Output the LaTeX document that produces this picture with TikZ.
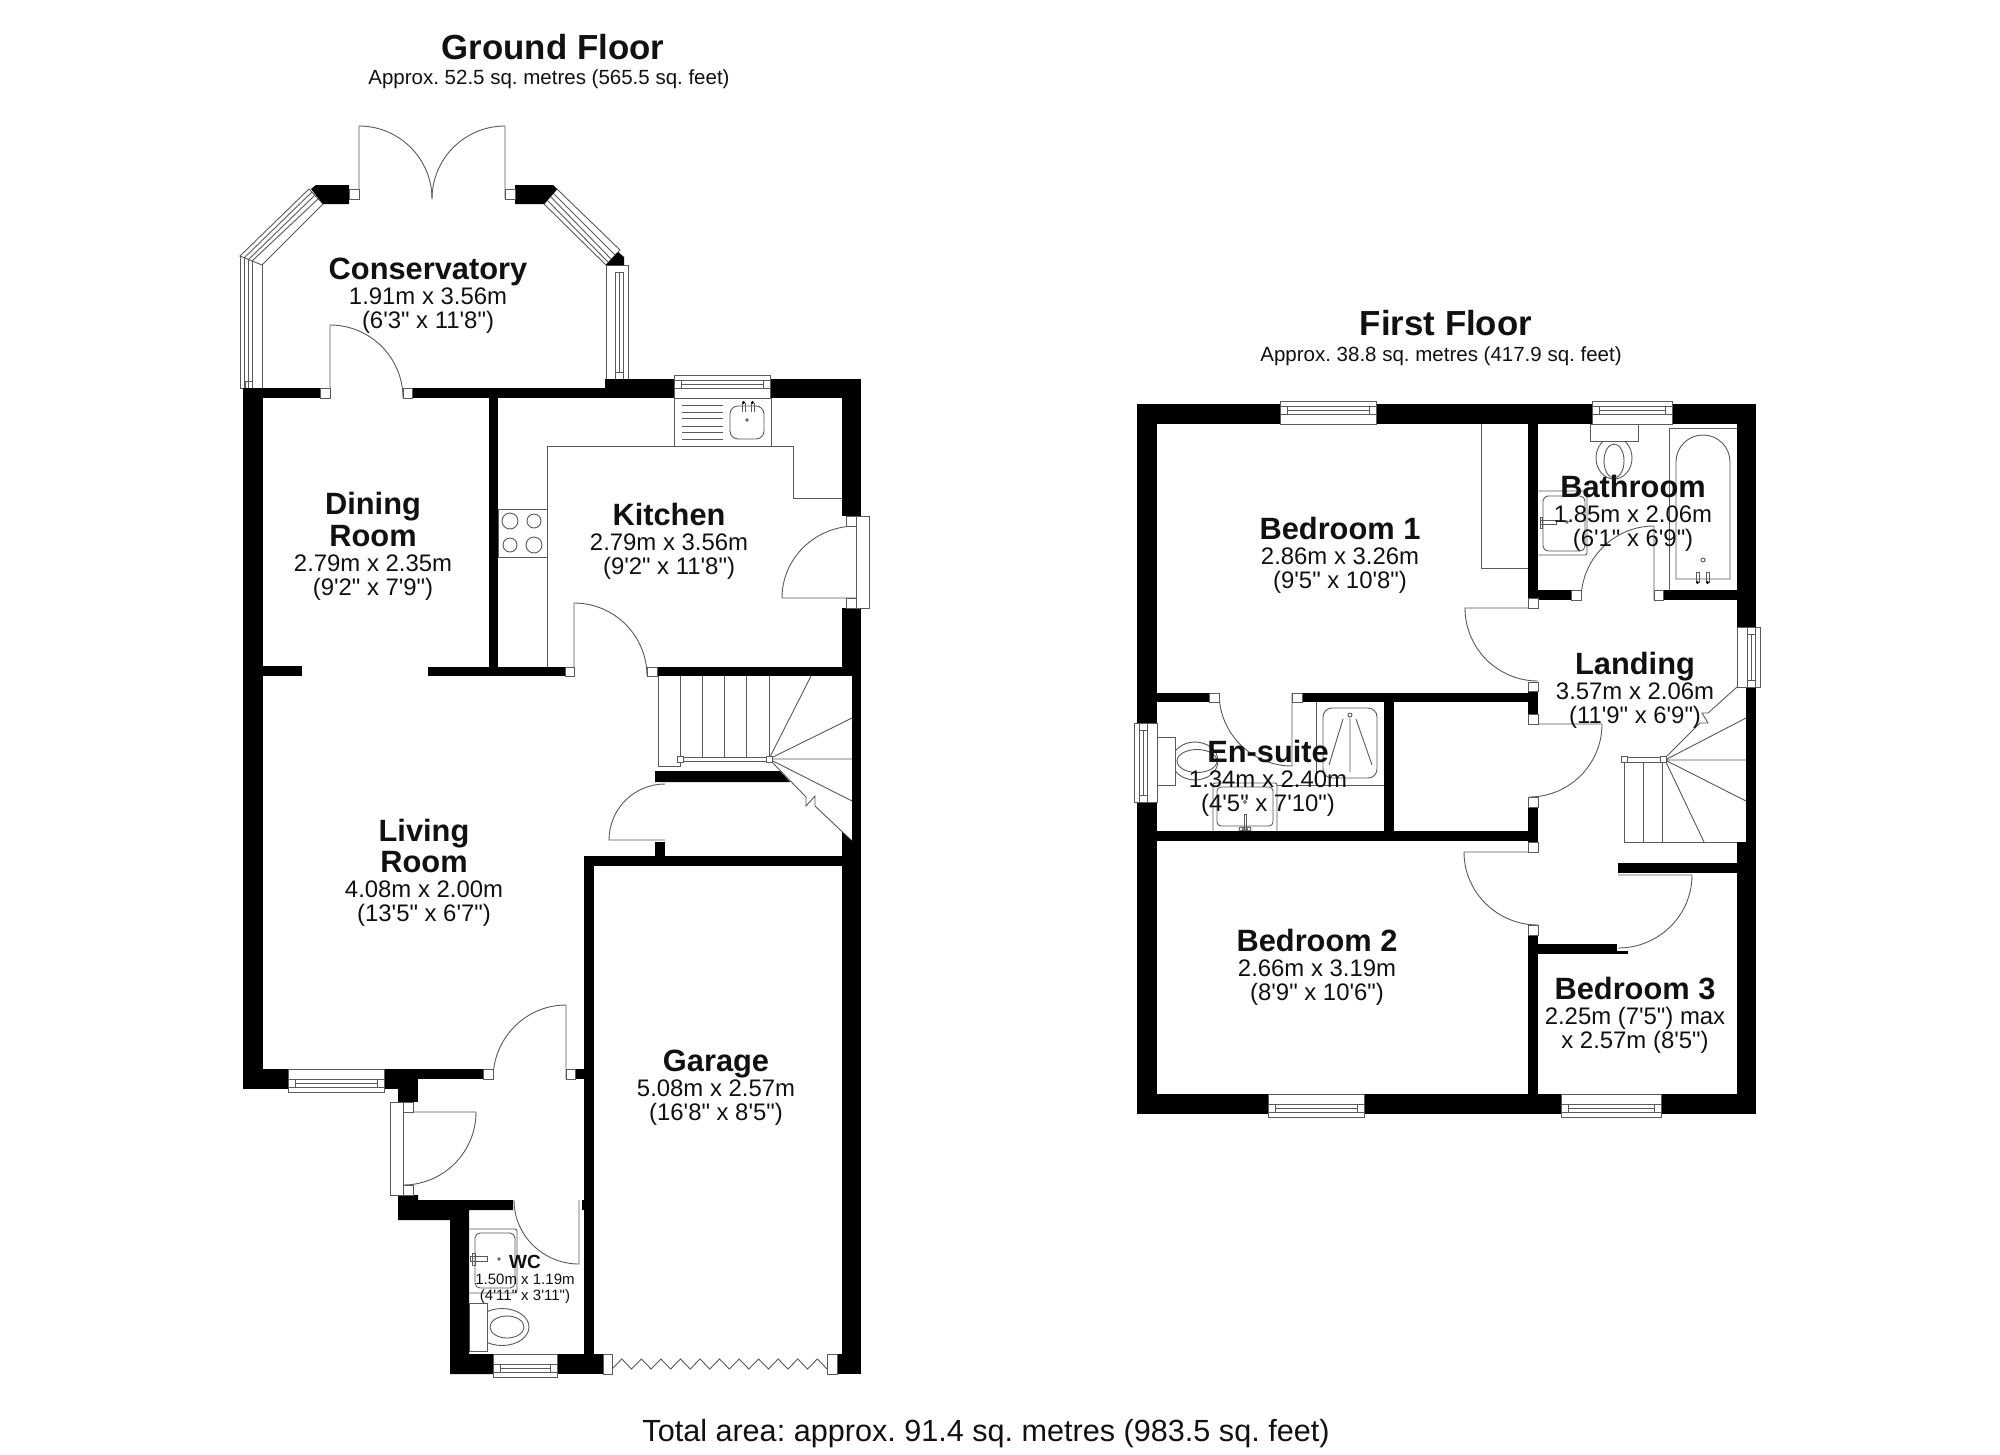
\documentclass[tikz,border=0pt]{standalone}
\usepackage{fontspec}
\newfontfamily\planfont{Liberation Sans}
\definecolor{fineline}{HTML}{5A5A5A}
\definecolor{inktext}{HTML}{111111}
\tikzset{
  fine/.style={draw=fineline,line width=0.9pt,line join=miter},
  fixture/.style={fine,fill=white},
  room/.style={anchor=north,inner sep=0pt,align=center,text=inktext,font=\frenchspacing\planfont\fontsize{23.9}{24.5}\selectfont},
  smallroom/.style={anchor=north,inner sep=0pt,align=center,text=inktext,font=\frenchspacing\planfont\fontsize{15}{16}\selectfont},
  title/.style={inner sep=0pt,text=inktext,font=\planfont\bfseries\fontsize{34.8}{36}\selectfont},
  subtitle/.style={inner sep=0pt,text=inktext,font=\frenchspacing\planfont\fontsize{20.5}{22}\selectfont},
  total/.style={inner sep=0pt,text=inktext,font=\frenchspacing\planfont\fontsize{30.6}{32}\selectfont}
}
\newcommand\rn[1]{{\bfseries\fontsize{30.8}{24.5}\selectfont #1}}
\newcommand\srn[1]{{\bfseries\fontsize{19}{16}\selectfont #1}}
\newcommand\wl[4]{\fill[black] (#1,#2) rectangle (#3,#4);}
\newcommand\jb[4]{\draw[fixture] (#1,#2) rectangle (#3,#4);}
% hinge x,y ; leaf end x,y ; arc end x,y
\newcommand\plandoor[6]{%
  \pgfmathsetmacro\cx{#3+#5-#1}\pgfmathsetmacro\cy{#4+#6-#2}%
  \pgfmathsetmacro\ax{#3+.5523*(\cx-#3)}\pgfmathsetmacro\ay{#4+.5523*(\cy-#4)}%
  \pgfmathsetmacro\bx{#5+.5523*(\cx-#5)}\pgfmathsetmacro\by{#6+.5523*(\cy-#6)}%
  \draw[fine] (#1,#2) -- (#3,#4) .. controls (\ax,\ay) and (\bx,\by) .. (#5,#6);}
% x1 x2 innery dir(+1 outward is down)
\newcommand\hwin[4]{%
  \pgfmathsetmacro\oy{#3+#4*23}\pgfmathsetmacro\la{\oy-#4*5}\pgfmathsetmacro\lb{\oy-#4*13}\pgfmathsetmacro\lm{\oy-#4*9}%
  \pgfmathsetmacro\xa{#1+7}\pgfmathsetmacro\xb{#2-7}%
  \draw[fixture] (#1,#3) rectangle (#2,\oy);
  \draw[fine] (#1,\la) -- (#2,\la) (#1,\lb) -- (#2,\lb) (\xa,\la) -- (\xa,\lb) (\xb,\la) -- (\xb,\lb) (\xa,\lm) -- (\xb,\lm);}
\newcommand\vwin[4]{%
  \pgfmathsetmacro\ox{#3+#4*23}\pgfmathsetmacro\la{\ox-#4*5}\pgfmathsetmacro\lb{\ox-#4*13}\pgfmathsetmacro\lm{\ox-#4*9}%
  \pgfmathsetmacro\ya{#1+7}\pgfmathsetmacro\yb{#2-7}%
  \draw[fixture] (#3,#1) rectangle (\ox,#2);
  \draw[fine] (\la,#1) -- (\la,#2) (\lb,#1) -- (\lb,#2) (\la,\ya) -- (\lb,\ya) (\la,\yb) -- (\lb,\yb) (\lm,\ya) -- (\lm,\yb);}
\begin{document}
\begin{tikzpicture}[x=1pt,y=-1pt]
\useasboundingbox (0,0) rectangle (2000,1454);
\fill[white] (0,0) rectangle (2000,1454);

% ---------- GROUND FLOOR fittings ----------
% kitchen worktop
\draw[fine] (547,667) -- (547,446) -- (793,446) -- (793,498) -- (842,498);
\draw[fine] (674,398) rectangle (771,446);
\foreach \yy in {405,412,418,426,432,439} \draw[fine] (682,\yy) -- (723,\yy);
\draw[fine,rounded corners=8pt] (730,406) rectangle (764,439);
\draw[fine] (742,403) -- (742,412) (745,403) -- (745,412) (751,403) -- (751,412) (754,403) -- (754,412);
\fill[black] (743.5,402.5) circle (1.6) (752.5,402.5) circle (1.6);
\draw[fine] (747,420) circle (1.2);
% hob
\draw[fine] (498,509) rectangle (547,557);
\draw[fine] (510,521) circle (8) (534,521) circle (7) (510,545) circle (7) (534,545) circle (8);

% stairs ground
\draw[fine] (658,676) -- (658,766) -- (680,766) -- (680,759);
\foreach \xx in {680,702,724,746,769} \draw[fine] (\xx,676) -- (\xx,757);
\draw[fine] (680,757) rectangle (769,761);
\draw[fine] (769,759) -- (811,676) (769,759) -- (852,718) (769,759) -- (852,759) (769,759) -- (852,801);
\draw[fine] (771,761) -- (806,797) -- (806,806) -- (815,796) -- (815,806) -- (852,841);
\jb{677}{756}{683}{762}
\jb{766}{756}{772}{762}

% WC
\draw[fine,rounded corners=2pt] (469,1229) -- (517,1229) -- (517,1293) -- (469,1293);
\draw[fine,rounded corners=5pt] (475,1233) rectangle (515,1288);
\draw[fine] (470,1256) -- (487,1256) -- (487,1261) -- (470,1261) -- cycle;
\draw[fine] (472,1253) rectangle (475,1265);
\draw[fine] (499,1259) circle (1.2);
\draw[fine] (502,1327) ellipse (27 and 18.5);
\draw[fine] (507,1327) ellipse (17 and 11);
\draw[fixture] (469,1303) rectangle (487,1351);

% ---------- FIRST FLOOR fittings ----------
% wardrobe
\draw[fine] (1481,424) -- (1481,568) -- (1528,568);
% bathroom
\draw[fine] (1614,458) ellipse (18 and 21);
\draw[fine] (1614,461) ellipse (10 and 17);
\draw[fixture] (1590,424) rectangle (1638,441);
\draw[fine,rounded corners=2pt] (1538,491) -- (1587,491) -- (1587,555) -- (1538,555);
\draw[fine,rounded corners=5pt] (1543,496) rectangle (1585,551);
\draw[fine] (1540,520) -- (1556,520) -- (1556,524) -- (1540,524) -- cycle;
\draw[fine] (1540,517) rectangle (1542,528);
\draw[fine] (1567,522) circle (1.2);
\draw[fine] (1669,590) -- (1669,428) -- (1737,428);
\draw[fine] (1676,579) -- (1676,462) .. controls (1676,447) and (1688,435) .. (1703,435) .. controls (1718,435) and (1730,447) .. (1730,462) -- (1730,579) -- cycle;
\draw[fine] (1696,572) rectangle (1699,582) (1706,572) rectangle (1709,582);
\fill[black] (1697.5,582.5) circle (1.6) (1707.5,582.5) circle (1.6);
\draw[fine] (1703,560) circle (2);
% en-suite
\draw[fine] (1316,702) -- (1316,785) (1277,785) -- (1384,785);
\draw[fine,rounded corners=9pt] (1323,708) rectangle (1377,778);
\draw[fine] (1350,715) circle (2);
\draw[fine] (1350,718) -- (1350,772) (1343,719) -- (1329,765) (1356,719) -- (1372,765);
\draw[fine] (1195,761) ellipse (23 and 19);
\draw[fine] (1197,761) ellipse (20 and 11.5);
\draw[fixture] (1157,737) rectangle (1175,785);
\draw[fine,rounded corners=2pt] (1213,831) -- (1213,783) -- (1277,783) -- (1277,831);
\draw[fine,rounded corners=4pt] (1217,787) rectangle (1273,826);
\draw[fine] (1245,802) circle (1.5);
\draw[fine] (1244,814) rectangle (1246,829);
\draw[fine] (1241,829) circle (2) (1249,829) circle (2) (1245,829) circle (2);
% stairs first
\draw[fine] (1624,842) -- (1737,842) (1624,762) -- (1624,842) (1643,762) -- (1643,842) (1662,762) -- (1662,842);
\draw[fine] (1624,757) rectangle (1664,762);
\draw[fine] (1665,760) -- (1704,842) (1665,760) -- (1746,801) (1665,760) -- (1746,760) (1665,760) -- (1746,718);
\draw[fine] (1666,757) -- (1700,723) -- (1708,723) -- (1702,713) -- (1708,713) -- (1737,687);
\jb{1621}{756}{1627}{762}
\jb{1660}{756}{1666}{762}

% ---------- doors ----------
\plandoor{359}{199}{359}{126}{432}{199}
\plandoor{505}{199}{505}{126}{432}{199}
\plandoor{330}{398}{330}{325}{403}{398}
\plandoor{856}{598}{782}{598}{856}{526}
\plandoor{574}{676}{574}{603}{647}{676}
\plandoor{665}{840}{609}{840}{665}{784}
\plandoor{566}{1079}{566}{1005}{493}{1079}
\plandoor{403}{1112}{476}{1112}{403}{1185}
\plandoor{579}{1200}{579}{1264}{514}{1200}
\plandoor{1654}{600}{1654}{526}{1581}{600}
\plandoor{1538}{608}{1465}{608}{1538}{681}
\plandoor{1292}{693}{1292}{766}{1219}{693}
\plandoor{1529}{724}{1602}{724}{1529}{797}
\plandoor{1538}{852}{1464}{852}{1538}{925}
\plandoor{1618}{875}{1692}{875}{1618}{948}

% ---------- conservatory windows ----------
\draw[fixture] (309,189) -- (323,204) -- (262,265) -- (240,256) -- cycle;
\draw[fine] (312,192) -- (244,258) (315,195) -- (248,260) (318,199) -- (252,261);
\draw[fine] (240,256) -- (240,388) -- (262,388) -- (262,265);
\draw[fine] (244,258) -- (244,388) (248,260) -- (248,388) (252,261) -- (252,388);
\draw[fine] (245,381) rectangle (252,388);
\draw[fixture] (557,189) -- (544,204) -- (606,265) -- (620,250) -- cycle;
\draw[fine] (553,193) -- (615,255) (550,196) -- (611,259) (547,200) -- (608,262);
\draw[fine] (606,265) -- (606,379) (628,265) -- (628,379) (606,265) -- (628,265);
\draw[fine] (615,272) rectangle (623,379) (619,272) -- (619,372) (615,272) -- (623,272) (615,372) -- (623,372);

% ---------- GROUND walls ----------
\fill[black] (316,185) -- (349,185) -- (349,204) -- (323,204) -- (311,189) -- cycle;
\fill[black] (515,185) -- (553,185) -- (557,189) -- (544,204) -- (515,204) -- cycle;
\fill[black] (606,265) -- (618,252) -- (624,257) -- (624,265) -- cycle;
\wl{243}{388}{263}{1089}
\wl{243}{1069}{288}{1089}
\wl{384}{1069}{398}{1089}
\wl{398}{1069}{418}{1102}
\wl{418}{1069}{483}{1079}
\wl{575}{1069}{584}{1079}
\wl{243}{388}{320}{398}
\wl{412}{388}{605}{398}
\wl{605}{379}{674}{398}
\wl{770}{379}{861}{398}
\wl{842}{379}{861}{516}
\wl{842}{608}{861}{676}
\wl{852}{667}{861}{1374}
\fill[black] (842,832) -- (852,841) -- (852,900) -- (842,900) -- cycle;
\wl{842}{856}{861}{1374}
\wl{489}{398}{498}{676}
\wl{263}{666}{302}{676}
\wl{428}{667}{565}{676}
\wl{657}{667}{861}{676}
\fill[black] (655,771) -- (780,771) -- (790,782) -- (655,782) -- cycle;
\wl{655}{842}{665}{856}
\wl{584}{856}{861}{866}
\wl{584}{856}{594}{1374}
\fill[black] (398,1195) -- (418,1195) -- (418,1200) -- (513,1200) -- (513,1210) -- (469,1210) -- (469,1354) -- (493,1354) -- (493,1374) -- (450,1374) -- (450,1220) -- (398,1220) -- cycle;
\wl{582}{1200}{584}{1210}
\wl{557}{1354}{603}{1374}
\wl{837}{1354}{842}{1374}

% jambs & doors frames ground
\jb{349}{189}{359}{199}
\jb{505}{189}{515}{199}
\jb{320}{388}{330}{398}
\jb{403}{388}{412}{398}
\jb{846}{516}{856}{526}
\jb{846}{598}{856}{608}
\jb{856}{516}{869}{608}
\jb{565}{667}{574}{676}
\jb{647}{667}{657}{676}
\jb{483}{1069}{493}{1079}
\jb{566}{1069}{575}{1079}
\jb{390}{1102}{403}{1195}
\jb{403}{1102}{413}{1112}
\jb{403}{1185}{413}{1195}
\jb{603}{1354}{612}{1374}
\jb{827}{1354}{837}{1374}
\draw[fine] (612,1369) \foreach \i in {0,...,10} { -- ({612+\i*19.55+9.8},1359) -- ({612+\i*19.55+19.55},1369) };

% windows ground
\hwin{674}{770}{398}{-1}
\hwin{288}{384}{1069}{1}
\hwin{493}{557}{1354}{1}

% ---------- FIRST walls ----------
\wl{1137}{404}{1280}{424}
\wl{1376}{404}{1592}{424}
\wl{1672}{404}{1756}{424}
\wl{1137}{404}{1157}{723}
\wl{1137}{802}{1157}{1114}
\wl{1737}{404}{1756}{627}
\wl{1746}{687}{1756}{842}
\wl{1737}{842}{1756}{1114}
\wl{1137}{1094}{1268}{1114}
\wl{1364}{1094}{1561}{1114}
\wl{1661}{1094}{1756}{1114}
\wl{1528}{424}{1538}{598}
\wl{1528}{590}{1571}{600}
\wl{1663}{590}{1737}{600}
\wl{1157}{693}{1209}{702}
\wl{1302}{693}{1528}{702}
\wl{1528}{691}{1538}{714}
\wl{1384}{693}{1394}{831}
\wl{1157}{831}{1528}{841}
\wl{1528}{807}{1538}{842}
\wl{1528}{935}{1538}{1114}
\wl{1538}{944}{1617}{954}
\wl{1617}{951}{1628}{954}
\wl{1618}{863}{1737}{873}

\jb{1571}{590}{1581}{600}
\jb{1654}{590}{1663}{600}
\jb{1528}{598}{1538}{608}
\jb{1528}{682}{1538}{691}
\jb{1528}{714}{1538}{724}
\jb{1528}{797}{1538}{807}
\jb{1528}{842}{1538}{852}
\jb{1528}{925}{1538}{935}
\jb{1209}{693}{1219}{702}
\jb{1292}{693}{1302}{702}

\hwin{1280}{1376}{424}{-1}
\hwin{1592}{1672}{424}{-1}
\hwin{1268}{1364}{1094}{1}
\hwin{1561}{1661}{1094}{1}
\vwin{723}{802}{1157}{-1}
\vwin{627}{687}{1737}{1}

% ---------- texts ----------
\node[title] (gf) at (553,47) {Ground Floor};
\node[subtitle] (gfa) at (549,79) {Approx. 52.5 sq. metres (565.5 sq. feet)};
\node[title] (ff) at (1446,323) {First Floor};
\node[subtitle] (ffa) at (1441,356) {Approx. 38.8 sq. metres (417.9 sq. feet)};
\node[total] (tot) at (986,1434) {Total area: approx. 91.4 sq. metres (983.5 sq. feet)};

\node[room] (cons) at (428,258) {\rn{Conservatory}\\1.91m x 3.56m\\(6'3" x 11'8")};
\node[room] (kit) at (669,503) {\rn{Kitchen}\\2.79m x 3.56m\\(9'2" x 11'8")};
\node[room] (din) at (373,492) {\rn{Dining}\\[3.7pt]\rn{Room}\\2.79m x 2.35m\\(9'2" x 7'9")};
\node[room] (liv) at (424,819) {\rn{Living}\\[2.4pt]\rn{Room}\\4.08m x 2.00m\\(13'5" x 6'7")};
\node[room] (gar) at (716,1050) {\rn{Garage}\\5.08m x 2.57m\\(16'8" x 8'5")};
\node[smallroom] (wc) at (525,1255) {\srn{WC}\\1.50m x 1.19m\\(4'11" x 3'11")};
\node[room] (bed1) at (1340,517) {\rn{Bedroom 1}\\2.86m x 3.26m\\(9'5" x 10'8")};
\node[room] (bath) at (1633,475) {\rn{Bathroom}\\1.85m x 2.06m\\(6'1" x 6'9")};
\node[room] (land) at (1635,652) {\rn{Landing}\\3.57m x 2.06m\\(11'9" x 6'9")};
\node[room] (ens) at (1268,740) {\rn{En-suite}\\1.34m x 2.40m\\(4'5" x 7'10")};
\node[room] (bed2) at (1317,929) {\rn{Bedroom 2}\\2.66m x 3.19m\\(8'9" x 10'6")};
\node[room] (bed3) at (1635,977) {\rn{Bedroom 3}\\2.25m (7'5") max\\x 2.57m (8'5")};
\end{tikzpicture}
\end{document}
